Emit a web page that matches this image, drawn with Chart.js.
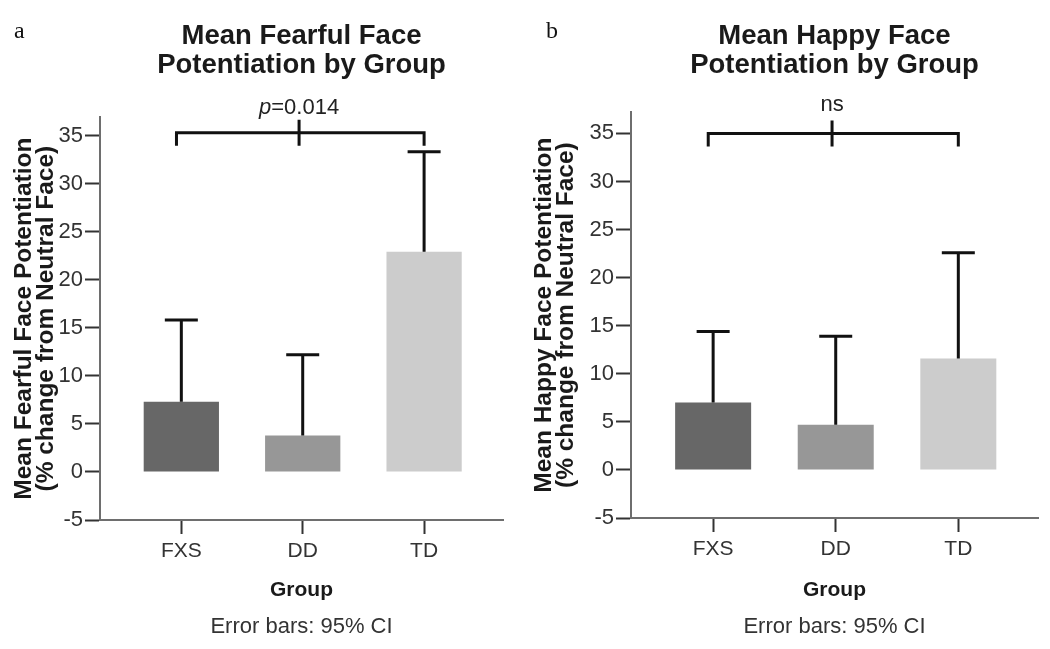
<!DOCTYPE html>
<html>
<head>
<meta charset="utf-8">
<script src="https://cdn.jsdelivr.net/npm/chart.js@4.4.1/dist/chart.umd.min.js"></script>
<style>
  html, body { margin: 0; padding: 0; background: #fff; }
  #wrap { position: relative; width: 1050px; height: 649px; }
  canvas { position: absolute; top: 0; }
  #fearChart { left: 0; }
  #happyChart { left: 525px; }
</style>
</head>
<body>
<div id="wrap">
  <canvas id="fearChart" width="525" height="649"></canvas>
  <canvas id="happyChart" width="525" height="649"></canvas>
</div>
<script>
// groups on the x axis, placed at 1, 2, 3
const groups = ['FXS', 'DD', 'TD'];
const groupPos = [1, 2, 3];

// panel a: fearful face
const fearMeans = [7.3, 3.8, 22.9];
const fearCiUpper = [15.8, 12.2, 33.3];
// panel b: happy face
const happyMeans = [7.0, 4.7, 11.6];
const happyCiUpper = [14.4, 13.9, 22.6];

// significance bracket: ends + middle (x), height (y)
const bracketX = [0.96, 1.97, 3.0];
const fearBracketY = 35.3;
const happyBracketY = 35.0;

const barColors = ['#676767', '#979797', '#cccccc'];
const SANS = "'Liberation Sans', Arial, sans-serif";
const SERIF = "'Liberation Serif', 'Times New Roman', serif";

// draws error bars (upper half only), the bracket, its label and the panel letter
const annotPlugin = {
  id: 'annot',
  afterDatasetsDraw(chart, args, opts) {
    const { ctx } = chart;
    const xs = chart.scales.x, ys = chart.scales.y;
    const meta = chart.getDatasetMeta(0);
    ctx.save();
    ctx.strokeStyle = '#111';
    ctx.lineWidth = 3;
    ctx.lineCap = 'butt';
    meta.data.forEach((bar, i) => {
      const top = ys.getPixelForValue(opts.means[i]);
      const cap = ys.getPixelForValue(opts.upper[i]);
      ctx.beginPath();
      ctx.moveTo(bar.x, top);
      ctx.lineTo(bar.x, cap);
      ctx.moveTo(bar.x - 16.5, cap);
      ctx.lineTo(bar.x + 16.5, cap);
      ctx.stroke();
    });

    // bracket
    const by = ys.getPixelForValue(opts.bracketY);
    const endY = by + 13;
    const [x1, x2, x3] = opts.bracketX.map(v => xs.getPixelForValue(v));
    ctx.beginPath();
    ctx.moveTo(x1, endY);
    ctx.lineTo(x1, by);
    ctx.lineTo(x3, by);
    ctx.lineTo(x3, endY);
    ctx.moveTo(x2, by - 13);
    ctx.lineTo(x2, endY);
    ctx.stroke();

    // bracket label
    ctx.fillStyle = '#222';
    ctx.textBaseline = 'alphabetic';
    ctx.textAlign = 'left';
    const ly = by - opts.labelGap;
    const parts = opts.label;
    const fonts = parts.map(p => (p.italic ? 'italic ' : '') + '22px ' + SANS);
    let total = 0;
    parts.forEach((p, i) => { ctx.font = fonts[i]; total += ctx.measureText(p.text).width; });
    let lx = x2 - total / 2;
    parts.forEach((p, i) => {
      ctx.font = fonts[i];
      ctx.fillText(p.text, lx, ly);
      lx += ctx.measureText(p.text).width;
    });

    // panel letter
    ctx.font = '24px ' + SERIF;
    ctx.fillStyle = '#111';
    ctx.fillText(opts.letter, opts.letterX, 38);
    ctx.restore();
  }
};

function createPanel(canvas, cfg) {
  return new Chart(canvas.getContext('2d'), {
    type: 'bar',
    data: {
      datasets: [{
        data: groupPos.map((x, i) => ({ x, y: cfg.means[i] })),
        backgroundColor: barColors,
        borderWidth: 0,
        barPercentage: 0.62,
        categoryPercentage: 1
      }]
    },
    options: {
      responsive: false,
      animation: false,
      layout: { padding: { left: 0, right: cfg.padRight, top: 0, bottom: 0 } },
      plugins: {
        legend: { display: false },
        tooltip: { enabled: false },
        title: {
          display: true, text: cfg.title, fullSize: false, color: '#1a1a1a',
          font: { family: SANS, size: 27.5, weight: 'bold', lineHeight: 1.03 },
          padding: { top: 22.5, bottom: cfg.titleGap }
        },
        subtitle: {
          display: true, position: 'bottom', text: 'Error bars: 95% CI', fullSize: false, color: '#333',
          font: { family: SANS, size: 22, lineHeight: 1.1 },
          padding: { top: 0, bottom: 10 }
        },
        annot: {
          means: cfg.means, upper: cfg.upper, bracketX, bracketY: cfg.bracketY,
          label: cfg.label, labelGap: cfg.labelGap, letter: cfg.letter, letterX: cfg.letterX
        }
      },
      scales: {
        x: {
          type: 'linear', min: 0.33, max: 3.65, offset: false,
          afterFit: s => { s.height = cfg.xAxisHeight; },
          grid: { offset: false, drawOnChartArea: false, tickLength: 14, tickWidth: 2, tickColor: '#333' },
          border: { color: '#6e6e6e', width: 2 },
          ticks: {
            stepSize: 1, includeBounds: false, autoSkip: false, maxRotation: 0, padding: 5,
            color: '#333', font: { family: SANS, size: 21 },
            callback: v => groups[v - 1] || ''
          },
          title: {
            display: true, text: 'Group', color: '#1a1a1a',
            font: { family: SANS, size: 21, weight: 'bold', lineHeight: 1.2 },
            padding: { top: 0, bottom: 12.2 }
          }
        },
        y: {
          min: -5, max: cfg.yMax,
          afterFit: s => { s.width = cfg.yAxisWidth; },
          grid: { drawOnChartArea: false, tickLength: 15, tickWidth: 2, tickColor: '#333' },
          border: { color: '#6e6e6e', width: 2 },
          ticks: { stepSize: 5, includeBounds: false, padding: 2, color: '#333', font: { family: SANS, size: 22 } },
          title: {
            display: true, text: cfg.yTitle, color: '#1a1a1a',
            font: { family: SANS, size: 24.5, weight: 'bold', lineHeight: 0.9 },
            padding: { top: cfg.yTitlePad, bottom: 0 }
          }
        }
      }
    },
    plugins: [annotPlugin]
  });
}

createPanel(document.getElementById('fearChart'), {
  means: fearMeans, upper: fearCiUpper, bracketY: fearBracketY,
  title: ['Mean Fearful Face', 'Potentiation by Group'],
  yTitle: ['Mean Fearful Face Potentiation', '(% change from Neutral Face)'],
  label: [{ text: 'p', italic: true }, { text: '=0.014' }], labelGap: 19,
  letter: 'a', letterX: 14,
  yMax: 36.9, padRight: 22, titleGap: 38.1, yAxisWidth: 100, xAxisHeight: 94.8, yTitlePad: 13
});

createPanel(document.getElementById('happyChart'), {
  means: happyMeans, upper: happyCiUpper, bracketY: happyBracketY,
  title: ['Mean Happy Face', 'Potentiation by Group'],
  yTitle: ['Mean Happy Face Potentiation', '(% change from Neutral Face)'],
  label: [{ text: 'ns' }], labelGap: 22,
  letter: 'b', letterX: 21,
  yMax: 37.2, padRight: 12, titleGap: 33.1, yAxisWidth: 106, xAxisHeight: 96.8, yTitlePad: 8
});
</script>
</body>
</html>
